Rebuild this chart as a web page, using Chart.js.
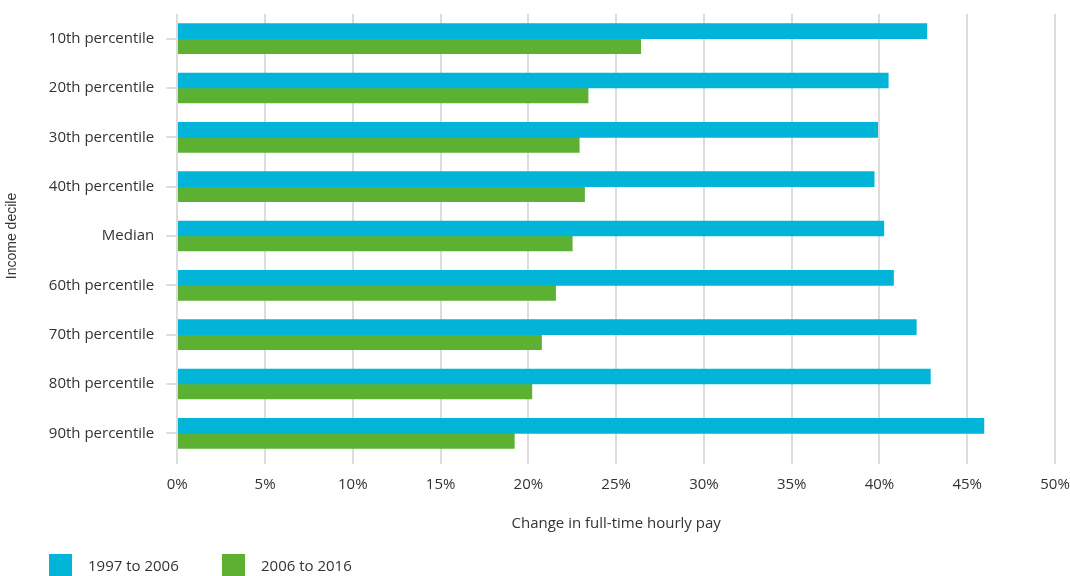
<!DOCTYPE html>
<html>
<head>
<meta charset="utf-8">
<script src="https://cdn.jsdelivr.net/npm/chart.js@4/dist/chart.umd.min.js"></script>
<style>
  html, body { margin: 0; padding: 0; background: #fff; }
  #wrap { width: 1070px; height: 576px; position: relative; }
  #legend { position: absolute; left: 49px; top: 554px; font: 15px "Open Sans", sans-serif; color: #333; }
  #legend span.item { position: absolute; white-space: nowrap; line-height: 23px; }
  #legend span.box { display: inline-block; width: 23px; height: 23px; vertical-align: top; margin-right: 16px; }
</style>
</head>
<body>
<div id="wrap">
  <canvas id="payChart"></canvas>
  <div id="legend"></div>
</div>
<script>
const deciles = [
    '10th percentile', '20th percentile', '30th percentile', '40th percentile',
    'Median', '60th percentile', '70th percentile', '80th percentile', '90th percentile'
];
const change1997to2006 = [42.7, 40.5, 39.9, 39.7, 40.25, 40.8, 42.1, 42.9, 45.95];
const change2006to2016 = [26.4, 23.4, 22.9, 23.2, 22.5, 21.55, 20.75, 20.2, 19.2];
const xTicks = [0, 5, 10, 15, 20, 25, 30, 35, 40, 45, 50];
const seriesNames = ['1997 to 2006', '2006 to 2016'];
const seriesColors = ['#02b5d8', '#5cb032'];

Chart.defaults.font.family = '"Open Sans", sans-serif';
Chart.defaults.font.size = 15;
Chart.defaults.color = '#333';

const ctx = document.getElementById('payChart').getContext('2d');

const chart = new Chart(ctx, {
    type: 'bar',
    data: {
        labels: deciles,
        datasets: [
            {
                label: seriesNames[0],
                data: change1997to2006,
                backgroundColor: seriesColors[0],
                barThickness: 15
            },
            {
                label: seriesNames[1],
                data: change2006to2016,
                backgroundColor: seriesColors[1],
                barThickness: 15
            }
        ]
    },
    options: {
        indexAxis: 'y',
        responsive: true,
        maintainAspectRatio: false,
        animation: false,
        layout: {
            padding: { top: 14, right: 0, left: 0, bottom: 43 }
        },
        plugins: {
            legend: { display: false },
            tooltip: { enabled: false }
        },
        scales: {
            x: {
                min: 0,
                max: 50,
                afterBuildTicks: function (axis) {
                    axis.ticks = xTicks.map(v => ({ value: v }));
                },
                afterFit: function (axis) {
                    axis.paddingRight = 15;
                },
                ticks: {
                    callback: v => v + '%',
                    padding: 12
                },
                grid: {
                    color: '#dddddd',
                    lineWidth: 2,
                    tickLength: 6
                },
                border: { display: false },
                title: {
                    display: true,
                    text: 'Change in full-time hourly pay',
                    padding: { top: 9, bottom: 0 }
                }
            },
            y: {
                afterFit: function (axis) {
                    axis.paddingTop = 0;
                    axis.paddingBottom = 0;
                },
                ticks: { padding: 12 },
                grid: {
                    offset: false,
                    drawOnChartArea: false,
                    color: '#dddddd',
                    lineWidth: 2,
                    tickLength: 11
                },
                border: { display: false },
                title: {
                    display: true,
                    text: 'Income decile',
                    font: { family: '"Liberation Sans", Arial, sans-serif', size: 14 },
                    padding: { top: 4, bottom: 16 }
                }
            }
        }
    }
});

// legend drawn as html below the canvas
const legendEl = document.getElementById('legend');
const legendX = [0, 173];
chart.data.datasets.forEach(function (ds, i) {
    const item = document.createElement('span');
    item.className = 'item';
    item.style.left = legendX[i] + 'px';
    item.innerHTML = '<span class="box" style="background:' + ds.backgroundColor + '"></span>' + ds.label;
    legendEl.appendChild(item);
});
</script>
</body>
</html>
